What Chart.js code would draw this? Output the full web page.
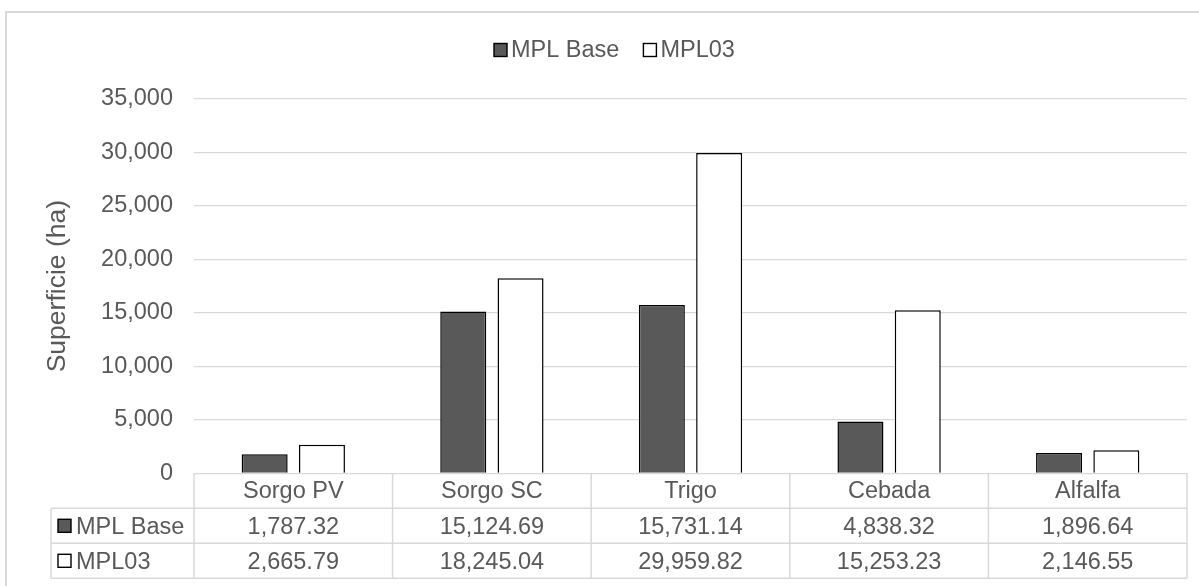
<!DOCTYPE html>
<html>
<head>
<meta charset="utf-8">
<script src="https://cdn.jsdelivr.net/npm/chart.js@4/dist/chart.umd.min.js"></script>
<style>
  html, body { margin: 0; padding: 0; background: #ffffff; }
  #wrap { width: 1199px; height: 586px; position: relative; }
</style>
</head>
<body>
<div id="wrap"><canvas id="chart" width="1199" height="586"></canvas></div>
<script>
// Cultivos y superficie sembrada (ha) por escenario
const categories = ['Sorgo PV', 'Sorgo SC', 'Trigo', 'Cebada', 'Alfalfa'];
const seriesNames = ['MPL Base', 'MPL03'];
const mplBase = [1787.32, 15124.69, 15731.14, 4838.32, 1896.64];
const mpl03 = [2665.79, 18245.04, 29959.82, 15253.23, 2146.55];
const yTicks = [0, 5000, 10000, 15000, 20000, 25000, 30000, 35000];

const TEXT = '#595959';
const GRID = '#d9d9d9';
const FONT = '"Liberation Sans", Arial, sans-serif';
const fills = ['#595959', '#ffffff'];

const fmtInt = v => v.toLocaleString('en-US');
const fmtDec = v => v.toLocaleString('en-US', { minimumFractionDigits: 2, maximumFractionDigits: 2 });

function drawKey(ctx, x, yc, fill) {
  const s = 13;
  ctx.fillStyle = fill;
  ctx.fillRect(x, yc - s / 2, s, s);
  ctx.strokeStyle = '#000000';
  ctx.lineWidth = 1.4;
  ctx.strokeRect(x, yc - s / 2, s, s);
}

// Outer frame, legend at top, and data table under the plot
const decorations = {
  id: 'decorations',
  afterDraw(chart) {
    const ctx = chart.ctx;
    const area = chart.chartArea;
    const xs = chart.scales.x;
    ctx.save();

    // frame
    ctx.strokeStyle = GRID;
    ctx.lineWidth = 2;
    ctx.strokeRect(6, 12, 1210, 600);

    // legend
    ctx.font = '23.5px ' + FONT;
    ctx.textBaseline = 'middle';
    ctx.textAlign = 'left';
    let lx = 494;
    const ly = 50;
    chart.data.datasets.forEach((ds, i) => {
      drawKey(ctx, lx, ly, fills[i]);
      lx += 17;
      ctx.fillStyle = TEXT;
      ctx.fillText(ds.label, lx, ly + 1);
      lx += ctx.measureText(ds.label).width + 24;
    });

    // table grid
    const rowH = 35;
    const top = area.bottom;
    const r1 = top + rowH;
    const r2 = r1 + rowH;
    const r3 = r2 + rowH;
    const leftCol = 51;
    ctx.strokeStyle = GRID;
    ctx.lineWidth = 1.5;
    ctx.beginPath();
    [r1, r2, r3].forEach(y => { ctx.moveTo(leftCol, y); ctx.lineTo(area.right, y); });
    ctx.moveTo(leftCol, r1); ctx.lineTo(leftCol, r3);
    for (let i = 0; i <= categories.length; i++) {
      const x = i < categories.length
        ? xs.getPixelForValue(i) - (xs.getPixelForValue(1) - xs.getPixelForValue(0)) / 2
        : area.right;
      ctx.moveTo(x, top); ctx.lineTo(x, r3);
    }
    ctx.stroke();

    // table rows
    const rows = [mplBase, mpl03];
    rows.forEach((vals, i) => {
      const yc = (i === 0 ? r1 : r2) + rowH / 2;
      drawKey(ctx, 58, yc, fills[i]);
      ctx.fillStyle = TEXT;
      ctx.textAlign = 'left';
      ctx.fillText(seriesNames[i], 76, yc + 2);
      ctx.textAlign = 'center';
      vals.forEach((v, j) => ctx.fillText(fmtDec(v), xs.getPixelForValue(j), yc + 2));
    });
    ctx.restore();
  }
};

new Chart(document.getElementById('chart'), {
  type: 'bar',
  data: {
    labels: categories,
    datasets: [
      { label: seriesNames[0], data: mplBase, backgroundColor: fills[0], borderColor: '#000000', borderWidth: 1.5 },
      { label: seriesNames[1], data: mpl03, backgroundColor: fills[1], borderColor: '#000000', borderWidth: 1.5 }
    ]
  },
  options: {
    responsive: false,
    animation: false,
    devicePixelRatio: 1,
    layout: { padding: { top: 99, left: 39, right: 12, bottom: 77.7 } },
    datasets: { bar: { categoryPercentage: 0.577, barPercentage: 0.803 } },
    plugins: { legend: { display: false }, tooltip: { enabled: false } },
    scales: {
      x: {
        grid: { display: false, drawTicks: false },
        border: { display: false },
        ticks: { color: TEXT, font: { family: FONT, size: 23.5 }, padding: 4 },
        afterFit(scale) { scale.height = 35; }
      },
      y: {
        min: 0,
        max: 35000,
        afterBuildTicks(scale) { scale.ticks = yTicks.map(v => ({ value: v })); },
        grid: { color: GRID, lineWidth: 1.3, drawTicks: false },
        border: { display: false },
        ticks: { color: TEXT, font: { family: FONT, size: 23.5 }, padding: 21, callback: v => fmtInt(v) },
        title: { display: true, text: 'Superficie (ha)', color: TEXT, font: { family: FONT, size: 26.5 }, padding: { top: 3, bottom: 0 } },
        afterFit(scale) { scale.width = 155; }
      }
    }
  },
  plugins: [decorations]
});
</script>
</body>
</html>
